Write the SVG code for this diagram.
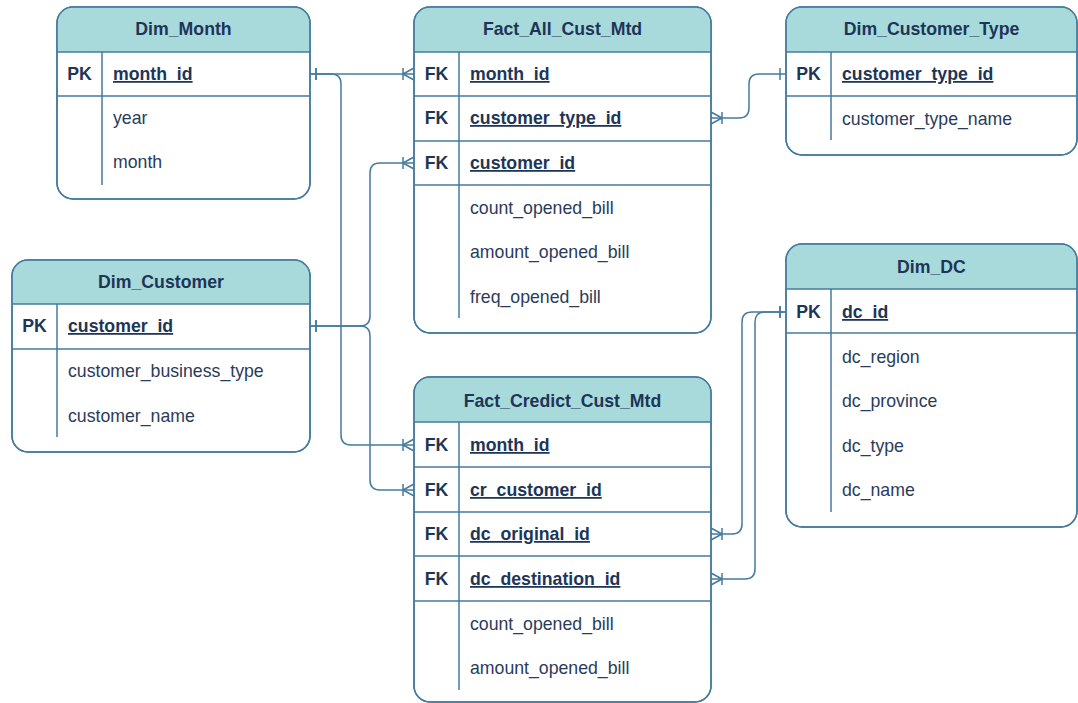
<svg xmlns="http://www.w3.org/2000/svg" width="1078" height="703" viewBox="0 0 1078 703">
  <style>
    .box { fill: #ffffff; stroke: #457B9D; stroke-width: 1.5; }
    .head { fill: #A8DADC; stroke: none; }
    .sep { stroke: #457B9D; stroke-width: 1.5; fill: none; }
    .title { font-family: "Liberation Sans", Arial, sans-serif; font-size: 17.7px; font-weight: bold; fill: #1D3557; text-anchor: middle; }
    .key { font-family: "Liberation Sans", Arial, sans-serif; font-size: 17.7px; font-weight: bold; fill: #1D3557; text-anchor: middle; }
    .pk { font-family: "Liberation Sans", Arial, sans-serif; font-size: 17.7px; font-weight: bold; fill: #1D3557; text-decoration: underline; }
    .fld { font-family: "Liberation Sans", Arial, sans-serif; font-size: 17.7px; fill: #2A3C5A; }
    .link { fill: none; stroke: #457B9D; stroke-width: 1.5; marker-start: url(#one); marker-end: url(#many); }
  </style>
  <defs>
    <!-- mandatory one: single bar just off the referenced table -->
    <marker id="one" markerUnits="userSpaceOnUse" viewBox="-2 -8 12 16" refX="0" refY="0" markerWidth="12" markerHeight="16" orient="auto" overflow="visible">
      <path d="M6,-6 V6" stroke="#457B9D" stroke-width="1.5" fill="none"/>
    </marker>
    <!-- one-to-many: bar plus crow's foot spreading onto the referencing table -->
    <marker id="many" markerUnits="userSpaceOnUse" viewBox="-14 -8 16 16" refX="0" refY="0" markerWidth="16" markerHeight="16" orient="auto" overflow="visible">
      <path d="M-11,0 L0,-6 M-11,0 L0,6 M-11,-6 V6" stroke="#457B9D" stroke-width="1.5" fill="none"/>
    </marker>
  </defs>

  <!-- relationships -->
  <g id="connectors">
    <path class="link" d="M310,74 H414"/>
    <path class="link" d="M310,74 H331 Q341,74 341,84 V435 Q341,445 351,445 H414"/>
    <path class="link" d="M310,326 H360 Q370,326 370,316 V173 Q370,163 380,163 H414"/>
    <path class="link" d="M310,326 H360 Q370,326 370,336 V480 Q370,490 380,490 H414"/>
    <path class="link" d="M786,74 H759 Q749,74 749,84 V108 Q749,118 739,118 H711"/>
    <path class="link" d="M786,312 H752 Q742,312 742,322 V524 Q742,534 732,534 H711"/>
    <path class="link" d="M786,312 H765 Q755,312 755,322 V569 Q755,579 745,579 H711"/>
  </g>

  <!-- Dim_Month -->
  <g id="dim_month">
    <rect class="box" x="57" y="7" width="253" height="192" rx="16"/>
    <path class="head" d="M57.75,52 V23 Q57.75,7.75 73,7.75 H294 Q309.25,7.75 309.25,23 V52 Z"/>
    <rect x="57" y="7" width="253" height="192" rx="16" fill="none" stroke="#457B9D" stroke-width="1.5"/>
    <path class="sep" d="M57,52 H310 M57,96 H310 M102,52 V185"/>
    <text class="title" x="183.5" y="35">Dim_Month</text>
    <text class="key" x="79.5" y="80">PK</text>
    <text class="pk" x="113" y="80">month_id</text>
    <text class="fld" x="113" y="124">year</text>
    <text class="fld" x="113" y="168">month</text>
  </g>

  <!-- Fact_All_Cust_Mtd -->
  <g id="fact_all_cust_mtd">
    <rect class="box" x="414" y="7" width="297" height="326" rx="16"/>
    <path class="head" d="M414.75,52 V23 Q414.75,7.75 430,7.75 H695 Q710.25,7.75 710.25,23 V52 Z"/>
    <rect x="414" y="7" width="297" height="326" rx="16" fill="none" stroke="#457B9D" stroke-width="1.5"/>
    <path class="sep" d="M414,52 H711 M414,96 H711 M414,141 H711 M414,185 H711 M459,52 V318"/>
    <text class="title" x="562.5" y="35">Fact_All_Cust_Mtd</text>
    <text class="key" x="436.5" y="80">FK</text>
    <text class="pk" x="470" y="80">month_id</text>
    <text class="key" x="436.5" y="124">FK</text>
    <text class="pk" x="470" y="124">customer_type_id</text>
    <text class="key" x="436.5" y="169">FK</text>
    <text class="pk" x="470" y="169">customer_id</text>
    <text class="fld" x="470" y="214">count_opened_bill</text>
    <text class="fld" x="470" y="258">amount_opened_bill</text>
    <text class="fld" x="470" y="303">freq_opened_bill</text>
  </g>

  <!-- Dim_Customer_Type -->
  <g id="dim_customer_type">
    <rect class="box" x="786" y="7" width="291" height="148" rx="16"/>
    <path class="head" d="M786.75,52 V23 Q786.75,7.75 802,7.75 H1061 Q1076.25,7.75 1076.25,23 V52 Z"/>
    <rect x="786" y="7" width="291" height="148" rx="16" fill="none" stroke="#457B9D" stroke-width="1.5"/>
    <path class="sep" d="M786,52 H1077 M786,96 H1077 M831,52 V140"/>
    <text class="title" x="931.5" y="35">Dim_Customer_Type</text>
    <text class="key" x="808.5" y="80">PK</text>
    <text class="pk" x="842" y="80">customer_type_id</text>
    <text class="fld" x="842" y="125">customer_type_name</text>
  </g>

  <!-- Dim_Customer -->
  <g id="dim_customer">
    <rect class="box" x="12" y="260" width="298" height="192" rx="16"/>
    <path class="head" d="M12.75,304 V276 Q12.75,260.75 28,260.75 H294 Q309.25,260.75 309.25,276 V304 Z"/>
    <rect x="12" y="260" width="298" height="192" rx="16" fill="none" stroke="#457B9D" stroke-width="1.5"/>
    <path class="sep" d="M12,304 H310 M12,349 H310 M57,304 V437"/>
    <text class="title" x="161" y="288">Dim_Customer</text>
    <text class="key" x="34.5" y="332">PK</text>
    <text class="pk" x="68" y="332">customer_id</text>
    <text class="fld" x="68" y="377">customer_business_type</text>
    <text class="fld" x="68" y="422">customer_name</text>
  </g>

  <!-- Dim_DC -->
  <g id="dim_dc">
    <rect class="box" x="786" y="244" width="291" height="283" rx="16"/>
    <path class="head" d="M786.75,289 V260 Q786.75,244.75 802,244.75 H1061 Q1076.25,244.75 1076.25,260 V289 Z"/>
    <rect x="786" y="244" width="291" height="283" rx="16" fill="none" stroke="#457B9D" stroke-width="1.5"/>
    <path class="sep" d="M786,289 H1077 M786,333 H1077 M831,289 V512"/>
    <text class="title" x="931.5" y="273">Dim_DC</text>
    <text class="key" x="808.5" y="318">PK</text>
    <text class="pk" x="842" y="318">dc_id</text>
    <text class="fld" x="842" y="363">dc_region</text>
    <text class="fld" x="842" y="407">dc_province</text>
    <text class="fld" x="842" y="452">dc_type</text>
    <text class="fld" x="842" y="496">dc_name</text>
  </g>

  <!-- Fact_Credict_Cust_Mtd -->
  <g id="fact_credict_cust_mtd">
    <rect class="box" x="414" y="377" width="297" height="325" rx="16"/>
    <path class="head" d="M414.75,422 V393 Q414.75,377.75 430,377.75 H695 Q710.25,377.75 710.25,393 V422 Z"/>
    <rect x="414" y="377" width="297" height="325" rx="16" fill="none" stroke="#457B9D" stroke-width="1.5"/>
    <path class="sep" d="M414,422 H711 M414,467 H711 M414,512 H711 M414,556 H711 M414,601 H711 M459,422 V690"/>
    <text class="title" x="562.5" y="407">Fact_Credict_Cust_Mtd</text>
    <text class="key" x="436.5" y="451">FK</text>
    <text class="pk" x="470" y="451">month_id</text>
    <text class="key" x="436.5" y="496">FK</text>
    <text class="pk" x="470" y="496">cr_customer_id</text>
    <text class="key" x="436.5" y="540">FK</text>
    <text class="pk" x="470" y="540">dc_original_id</text>
    <text class="key" x="436.5" y="585">FK</text>
    <text class="pk" x="470" y="585">dc_destination_id</text>
    <text class="fld" x="470" y="630">count_opened_bill</text>
    <text class="fld" x="470" y="674">amount_opened_bill</text>
  </g>
</svg>
